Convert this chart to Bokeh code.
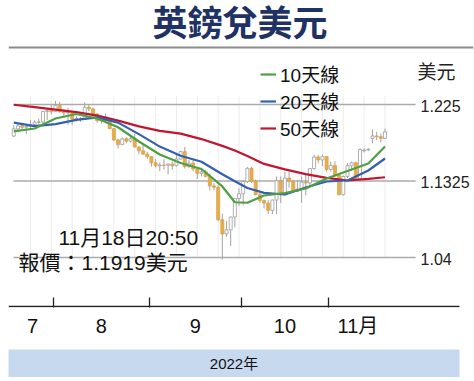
import pandas as pd
from bokeh.plotting import figure
from bokeh.models import Range1d, FixedTicker, Label, Span, Legend, LegendItem, ColumnDataSource
from bokeh.layouts import column
from bokeh.core.properties import value
from bokeh.embed import file_html
from bokeh.resources import INLINE

# ---------------- data ----------------
dates = pd.bdate_range("2022-07-18", "2022-11-18")

opens = [1.1868, 1.1955, 1.1992, 1.1975, 1.1985, 1.2006, 1.2037, 1.2038, 1.2165, 1.2178,
         1.2163, 1.2240, 1.2165, 1.2148, 1.2153, 1.2075, 1.2078, 1.2070, 1.2216, 1.2197,
         1.2135, 1.2054, 1.2100, 1.2057, 1.1958, 1.1822, 1.1765, 1.1835, 1.1807, 1.1835,
         1.1737, 1.1691, 1.1650, 1.1620, 1.1545, 1.1508, 1.1518, 1.1515, 1.1530, 1.1510,
         1.1590, 1.1680, 1.1500, 1.1540, 1.1470, 1.1418, 1.1435, 1.1380, 1.1265, 1.1250,
         1.0856, 1.0685, 1.0735, 1.0890, 1.1115, 1.1170, 1.1320, 1.1478, 1.1320, 1.1160,
         1.1090, 1.1058, 1.0970, 1.1095, 1.1330, 1.1175, 1.1360, 1.1320, 1.1200, 1.1225,
         1.1310, 1.1300, 1.1475, 1.1615, 1.1580, 1.1620, 1.1465, 1.1512, 1.1390, 1.1160,
         1.1380, 1.1510, 1.1545, 1.1355, 1.1690, 1.1700, 1.1840, 1.1870, 1.1860, 1.1840]
highs = [1.2000, 1.2017, 1.2010, 1.1990, 1.2064, 1.2060, 1.2080, 1.2170, 1.2190, 1.2245,
         1.2293, 1.2280, 1.2190, 1.2210, 1.2165, 1.2110, 1.2100, 1.2276, 1.2250, 1.2210,
         1.2145, 1.2120, 1.2140, 1.2090, 1.1965, 1.1840, 1.1852, 1.1855, 1.1870, 1.1900,
         1.1742, 1.1760, 1.1680, 1.1625, 1.1590, 1.1550, 1.1590, 1.1540, 1.1560, 1.1645,
         1.1690, 1.1738, 1.1580, 1.1590, 1.1480, 1.1460, 1.1460, 1.1415, 1.1300, 1.1275,
         1.0930, 1.0840, 1.0890, 1.1120, 1.1235, 1.1330, 1.1495, 1.1496, 1.1340, 1.1180,
         1.1100, 1.1095, 1.1100, 1.1380, 1.1380, 1.1440, 1.1440, 1.1340, 1.1340, 1.1380,
         1.1410, 1.1480, 1.1645, 1.1640, 1.1645, 1.1625, 1.1560, 1.1565, 1.1400, 1.1390,
         1.1540, 1.1560, 1.1560, 1.1720, 1.1720, 1.1720, 1.1950, 1.1920, 1.1900, 1.1960]
lows = [1.1858, 1.1940, 1.1935, 1.1890, 1.1948, 1.1980, 1.2005, 1.2000, 1.2063, 1.2130,
        1.2160, 1.2150, 1.2110, 1.2005, 1.2004, 1.2045, 1.2040, 1.2065, 1.2170, 1.2120,
        1.2030, 1.2020, 1.2040, 1.1955, 1.1806, 1.1717, 1.1760, 1.1780, 1.1790, 1.1730,
        1.1650, 1.1640, 1.1590, 1.1500, 1.1490, 1.1444, 1.1460, 1.1405, 1.1460, 1.1500,
        1.1585, 1.1475, 1.1480, 1.1445, 1.1350, 1.1380, 1.1370, 1.1212, 1.1210, 1.0840,
        1.0375, 1.0650, 1.0540, 1.0765, 1.1025, 1.1030, 1.1300, 1.1300, 1.1150, 1.1060,
        1.0995, 1.0925, 1.0925, 1.0924, 1.1060, 1.1150, 1.1245, 1.1190, 1.1190, 1.1060,
        1.1150, 1.1260, 1.1460, 1.1540, 1.1505, 1.1440, 1.1440, 1.1380, 1.1150, 1.1150,
        1.1360, 1.1450, 1.1350, 1.1340, 1.1670, 1.1690, 1.1780, 1.1820, 1.1790, 1.1830]
closes = [1.1955, 1.1992, 1.1975, 1.1985, 1.2006, 1.2037, 1.2038, 1.2165, 1.2178, 1.2163,
          1.2240, 1.2165, 1.2148, 1.2153, 1.2075, 1.2078, 1.2070, 1.2216, 1.2197, 1.2135,
          1.2054, 1.2100, 1.2057, 1.1958, 1.1822, 1.1765, 1.1835, 1.1807, 1.1835, 1.1737,
          1.1691, 1.1650, 1.1620, 1.1545, 1.1508, 1.1518, 1.1515, 1.1530, 1.1510, 1.1590,
          1.1680, 1.1500, 1.1540, 1.1470, 1.1418, 1.1435, 1.1380, 1.1265, 1.1250, 1.0856,
          1.0685, 1.0735, 1.0890, 1.1115, 1.1170, 1.1320, 1.1478, 1.1320, 1.1160, 1.1090,
          1.1058, 1.0970, 1.1095, 1.1330, 1.1175, 1.1360, 1.1320, 1.1200, 1.1225, 1.1310,
          1.1300, 1.1475, 1.1615, 1.1580, 1.1620, 1.1465, 1.1512, 1.1390, 1.1160, 1.1380,
          1.1510, 1.1545, 1.1355, 1.1705, 1.1700, 1.1710, 1.1870, 1.1860, 1.1840, 1.1919]

# moving-average lines (at these trading-day positions)
ma_pos = [0, 5, 10, 15, 20, 25, 30, 35, 40, 45, 50, 53, 56, 60, 65, 70, 75, 80, 85, 89]
ma10 = [1.1924, 1.1960, 1.2081, 1.2135, 1.2081, 1.1975, 1.1803, 1.1645, 1.1543, 1.1470,
        1.1259, 1.1068, 1.1062, 1.1150, 1.1180, 1.1234, 1.1355, 1.1446, 1.1537, 1.1742]
ma20 = [1.2030, 1.1988, 1.2012, 1.2065, 1.2095, 1.2031, 1.1892, 1.1741, 1.1630, 1.1557,
        1.1406, 1.1323, 1.1240, 1.1182, 1.1162, 1.1247, 1.1319, 1.1331, 1.1452, 1.1597]
ma50 = [1.2247, 1.2219, 1.2188, 1.2157, 1.2115, 1.2055, 1.1985, 1.1932, 1.1898, 1.1832,
        1.1750, 1.1694, 1.1626, 1.1532, 1.1466, 1.1408, 1.1362, 1.1331, 1.1350, 1.1370]
ma_names = ["10天線", "20天線", "50天線"]

y_ticks = [1.04, 1.1325, 1.225]
y_tick_labels = ["1.04", "1.1325", "1.225"]
month_labels = ["7", "8", "9", "10", "11月"]
year_label = "2022年"
unit_label = "美元"
title_text = "英鎊兌美元"
quote_time = "11月18日20:50"
quote_price = 1.1919

# ---------------- styling / layout helpers ----------------
X_PER_DAY = 4.18
Y_PER_PX = 0.185 / 153


def px(xp):  # canvas pixel -> trading-day index
    return 9.5 + (xp - 53) / X_PER_DAY


def py(yp):  # canvas pixel -> price
    return 1.225 - (yp - 104) * Y_PER_PX


LATIN = "Liberation Sans, Noto Sans CJK TC"
CJK = "Noto Sans CJK TC"

GREEN = "#4fa044"
BLUE = "#3560b0"
RED = "#c31430"
ORANGE = "#e7ae4c"
WICK = "#a3a3a3"

FRAME_BOTTOM = 307

idx = list(range(len(dates)))
months = [d.month for d in dates]
month_mid, month_bounds = [], []
for m in sorted(set(months)):
    ii = [i for i in idx if months[i] == m]
    month_mid.append((ii[0] + ii[-1]) / 2.0)
    if ii[0] > 0:
        month_bounds.append(ii[0] - 0.5)
fridays = [i for i in idx if dates[i].weekday() == 4]

# ---------------- main figure ----------------
p = figure(width=474, height=349,
           x_range=Range1d(px(8), px(474)), y_range=Range1d(py(FRAME_BOTTOM), py(0)),
           output_backend="svg", toolbar_location=None,
           min_border_left=8, min_border_right=0, min_border_top=0, min_border_bottom=349 - FRAME_BOTTOM,
           y_axis_location=None, outline_line_color=None,
           background_fill_color="white", border_fill_color="white")
p.grid.visible = False

xa = p.xaxis[0]
xa.ticker = FixedTicker(ticks=[float(t) for t in month_mid], minor_ticks=[float(t) for t in month_bounds])
xa.major_label_overrides = {float(t): lab for t, lab in zip(month_mid, month_labels)}
xa.axis_line_color = None
xa.major_tick_line_color = None
xa.major_tick_in = 0
xa.major_tick_out = 0
xa.minor_tick_line_color = "#222222"
xa.minor_tick_line_width = 1.3
xa.minor_tick_in = 10
xa.minor_tick_out = 0
xa.major_label_standoff = 7
xa.major_label_text_font = LATIN
xa.major_label_text_font_size = "20px"
xa.major_label_text_color = "#111111"

# axis base line (ends before the price labels, as in the original)
p.segment(x0=[px(8)], x1=[px(460)], y0=[py(306)], y1=[py(306)], line_color="#222222", line_width=1.6)

# title + rule
p.add_layout(Label(x=px(240), y=py(23), text=title_text, text_align="center", text_baseline="middle",
                   text_font=LATIN, text_font_style="bold", text_font_size="35px", text_color="#1f3264"))
p.add_layout(Span(location=py(47), dimension="width", line_color="#8c8c8c", line_width=2))

# weekly faint grid
p.segment(x0=fridays, x1=fridays, y0=[y_ticks[0]] * len(fridays), y1=[py(95)] * len(fridays),
          line_color="#ececec", line_width=1)
# main horizontal grid lines
p.segment(x0=[px(13)] * len(y_ticks), x1=[px(416)] * len(y_ticks), y0=y_ticks, y1=y_ticks,
          line_color="#ababab", line_width=1.5)
p.text(x=[px(421)] * len(y_ticks), y=y_ticks, text=y_tick_labels, text_font=value(LATIN),
       text_font_size=value("16px"), text_baseline="middle", text_align="left", text_color="#222222",
       y_offset=1)
p.add_layout(Label(x=px(418), y=py(72), text=unit_label, text_baseline="middle",
                   text_font=LATIN, text_font_size="19px", text_color="#222222"))

# candlesticks
up = [c >= o for o, c in zip(opens, closes)]
src = ColumnDataSource(dict(
    x=idx, high=highs, low=lows,
    top=[max(o, c) for o, c in zip(opens, closes)],
    bottom=[min(o, c) for o, c in zip(opens, closes)],
    fill=["white" if u else ORANGE for u in up],
    line=["#9c9c9c" if u else "#dca043" for u in up],
))
p.segment(x0="x", x1="x", y0="low", y1="high", source=src, line_color=WICK, line_width=1)
p.vbar(x="x", width=0.72, top="top", bottom="bottom", source=src,
       fill_color="fill", line_color="line", line_width=0.8)

# moving averages
r50 = p.line(ma_pos, ma50, line_color=RED, line_width=2.2)
r20 = p.line(ma_pos, ma20, line_color=BLUE, line_width=2.2)
r10 = p.line(ma_pos, ma10, line_color=GREEN, line_width=2.2)

legend = Legend(items=[LegendItem(label=ma_names[0], renderers=[r10]),
                       LegendItem(label=ma_names[1], renderers=[r20]),
                       LegendItem(label=ma_names[2], renderers=[r50])],
                location=(252, FRAME_BOTTOM - 141), orientation="vertical",
                label_text_font=LATIN, label_text_font_size="19px", label_text_color="#111111",
                label_height=22, glyph_height=22, glyph_width=16, label_standoff=4, spacing=-2,
                padding=0, margin=0, border_line_alpha=0, background_fill_alpha=0)
p.add_layout(legend)

# quote note
p.add_layout(Label(x=px(58), y=py(237), text=quote_time, text_baseline="middle",
                   text_font=LATIN, text_font_size="21px", text_color="#111111"))
p.add_layout(Label(x=px(18), y=py(262), text=f"報價：{quote_price:.4f}{unit_label}", text_baseline="middle",
                   text_font=LATIN, text_font_size="21px", text_color="#111111"))

# ---------------- year band ----------------
band = figure(width=460, height=28, x_range=Range1d(0, 1), y_range=Range1d(0, 1),
              output_backend="svg", toolbar_location=None,
              min_border_left=6, min_border_right=1, min_border_top=0, min_border_bottom=0,
              x_axis_location=None, y_axis_location=None, outline_line_color=None,
              background_fill_color="#c6d9ee", border_fill_color="white")
band.grid.visible = False
band.text(x=[0.5], y=[0.5], text=[year_label], text_align="center", text_baseline="middle",
          text_font=value(LATIN), text_font_size=value("15px"), text_color="#111111")

layout = column(p, band, spacing=0)
open("out.html", "w").write(file_html(layout, INLINE))
